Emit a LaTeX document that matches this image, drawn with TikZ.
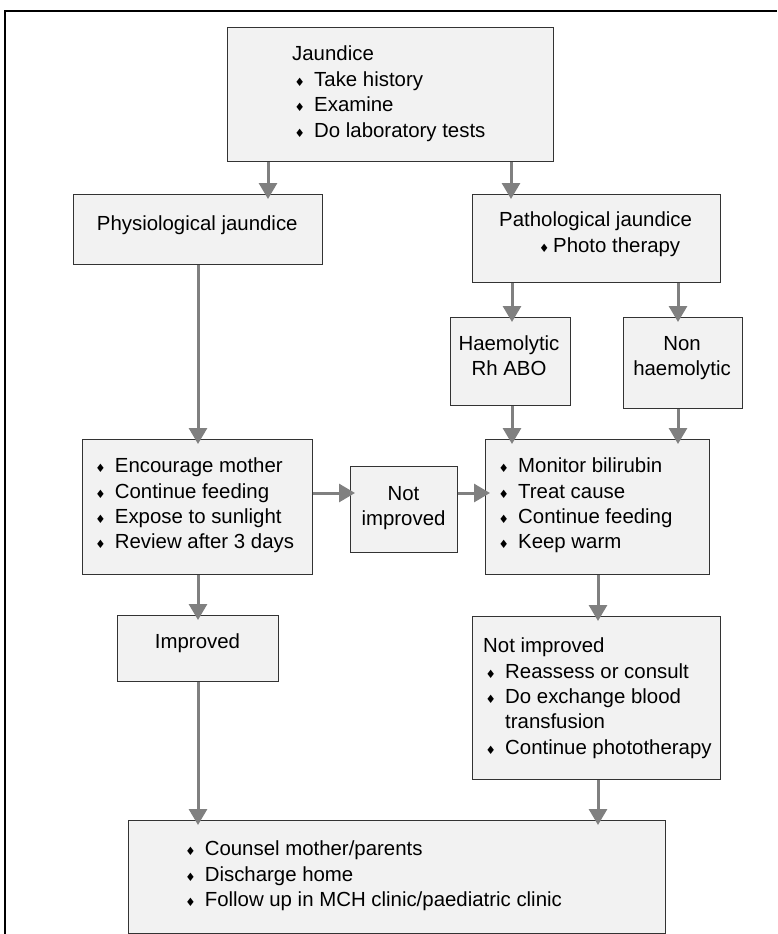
\documentclass[tikz,border=0pt]{standalone}
\usepackage{fontspec}
\setmainfont{Liberation Sans}
\newfontfamily\symfont{DejaVu Sans}
\usetikzlibrary{arrows.meta}

% bullet marker and line stacks used inside the boxes
\newcommand\bl{\hspace*{2.5pt}\makebox[19.5pt][l]{\raisebox{0pt}{\symfont\fontsize{11.5}{11.5}\selectfont ♦}}}
\newcommand\pbl{\makebox[14pt][l]{\raisebox{0pt}{\symfont\fontsize{11.5}{11.5}\selectfont ♦}}}
\newcommand\lns[1]{\begin{tabular}[t]{@{}l@{}}#1\end{tabular}}
\newcommand\clns[1]{\begin{tabular}[t]{@{}c@{}}#1\end{tabular}}

\definecolor{boxfill}{HTML}{F2F2F2}
\definecolor{boxline}{HTML}{333333}
\definecolor{arrowgray}{HTML}{808080}

\tikzset{
  box/.style={draw=boxline, fill=boxfill, line width=1.3pt, rectangle,
              inner sep=0pt, anchor=north west},
  txt/.style={inner sep=0pt, anchor=base west,
              font=\fontsize{20.4}{25.4}\selectfont},
  ctxt/.style={txt, anchor=base},
  arr/.style={draw=arrowgray, line width=3pt,
              -{Triangle[length=16pt,width=18pt]}, shorten >=-5pt},
}

\begin{document}
\begin{tikzpicture}[x=1pt,y=-1pt]
\useasboundingbox (0,0) rectangle (777,934);

% outer frame
\draw[line width=2pt] (5,934) -- (5,11) -- (777,11);

% boxes
\node[box, minimum width=326pt, minimum height=134pt] (top)   at (227,27)  {};
\node[box, minimum width=249pt, minimum height=70pt]  (phys)  at (73,194)  {};
\node[box, minimum width=248pt, minimum height=88pt]  (path)  at (472,194) {};
\node[box, minimum width=120pt, minimum height=88pt]  (haem)  at (450,317) {};
\node[box, minimum width=119pt, minimum height=91pt]  (nonh)  at (623,317) {};
\node[box, minimum width=230pt, minimum height=135pt] (enc)   at (82,439)  {};
\node[box, minimum width=107pt, minimum height=86pt]  (nimp)  at (350,466) {};
\node[box, minimum width=224pt, minimum height=135pt] (mon)   at (485,439) {};
\node[box, minimum width=161pt, minimum height=66pt]  (impr)  at (117,615) {};
\node[box, minimum width=248pt, minimum height=163pt] (nimpb) at (472,616) {};
\node[box, minimum width=537pt, minimum height=113pt] (fin)   at (128,820) {};

% texts
\node[txt] (ttop) at (292,61)
  {\lns{Jaundice\\ \bl Take history\\ \bl Examine\\ \bl Do laboratory tests}};
\node[txt] (tphys) at (96.7,230) {Physiological jaundice};
\node[txt] (tpath) at (499,226.7)
  {\lns{Pathological jaundice\\ \hspace*{40pt}\pbl Photo therapy}};
\node[ctxt] (thaem) at (509,350) {\clns{Haemolytic\\Rh ABO}};
\node[ctxt] (tnonh) at (682,350) {\clns{Non\\haemolytic}};
\node[txt] (tenc) at (92.7,472.7)
  {\lns{\bl Encourage mother\\ \bl Continue feeding\\ \bl Expose to sunlight\\ \bl Review after 3 days}};
\node[ctxt] (tnimp) at (403.5,500) {\clns{Not\\improved}};
\node[txt] (tmon) at (496,472.7)
  {\lns{\bl Monitor bilirubin\\ \bl Treat cause\\ \bl Continue feeding\\ \bl Keep warm}};
\node[ctxt] (timpr) at (197.5,648) {Improved};
\node[txt] (tnimpb) at (483,652.7)
  {\lns{Not improved\\ \bl Reassess or consult\\ \bl Do exchange blood\\ \hspace*{22pt}transfusion\\ \bl Continue phototherapy}};
\node[txt] (tfin) at (182.6,855.7)
  {\lns{\bl Counsel mother/parents\\ \bl Discharge home\\ \bl Follow up in MCH clinic/paediatric clinic}};

% connector positions
\coordinate (xa) at (268,0);
\coordinate (xb) at (511,0);
\coordinate (xc) at (198,0);
\coordinate (xd) at (512,0);
\coordinate (xe) at (678,0);
\coordinate (xf) at (598,0);
\coordinate (yh) at (0,493);

% connectors
\draw[arr] (top.south -| xa) -- (phys.north -| xa);
\draw[arr] (top.south -| xb) -- (path.north -| xb);
\draw[arr] (path.south -| xd) -- (haem.north -| xd);
\draw[arr] (path.south -| xe) -- (nonh.north -| xe);
\draw[arr] (phys.south -| xc) -- (enc.north -| xc);
\draw[arr] (haem.south -| xd) -- (mon.north -| xd);
\draw[arr] (nonh.south -| xe) -- (mon.north -| xe);
\draw[arr] (enc.east |- yh) -- (nimp.west |- yh);
\draw[arr] (nimp.east |- yh) -- (mon.west |- yh);
\draw[arr] (enc.south -| xc) -- (impr.north -| xc);
\draw[arr] (mon.south -| xf) -- (nimpb.north -| xf);
\draw[arr] (impr.south -| xc) -- (fin.north -| xc);
\draw[arr] (nimpb.south -| xf) -- (fin.north -| xf);
\end{tikzpicture}
\end{document}
